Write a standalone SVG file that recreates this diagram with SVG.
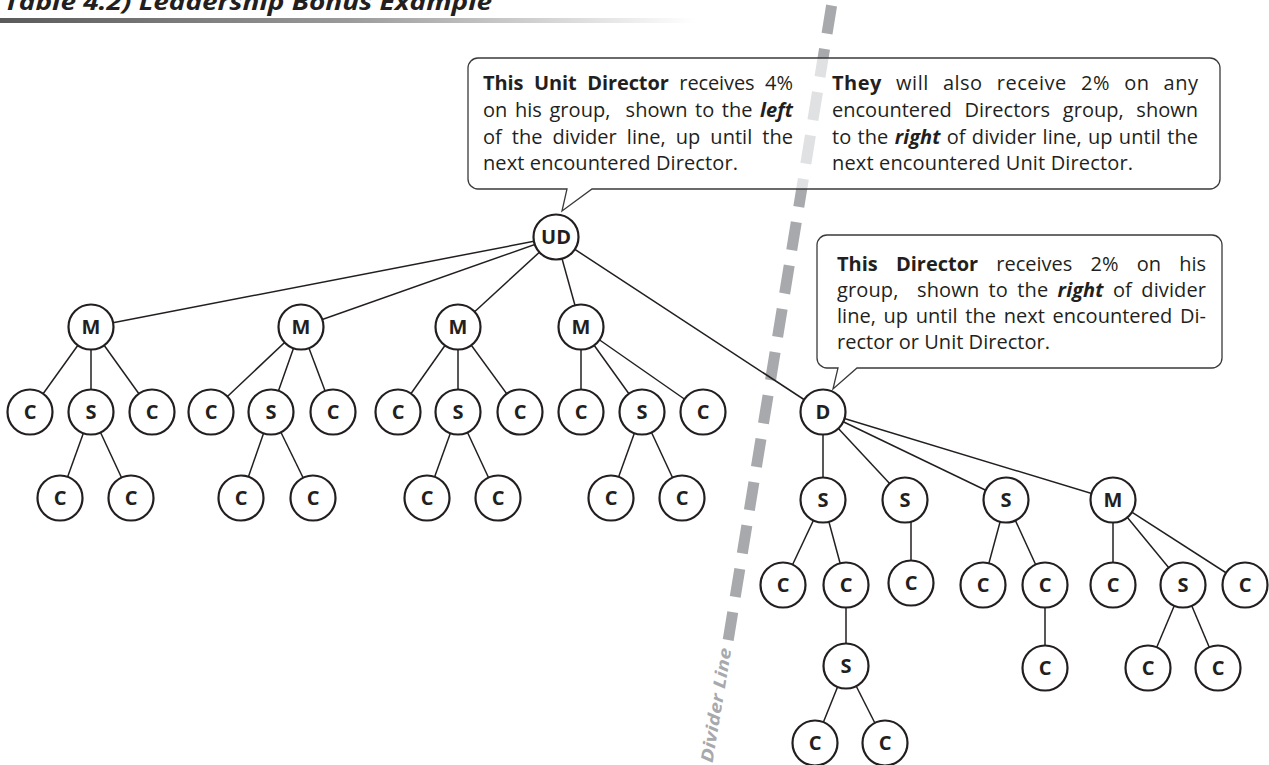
<svg xmlns="http://www.w3.org/2000/svg" width="1269" height="765" viewBox="0 0 1269 765">
<style>
  .edge { stroke:#231f20; stroke-width:1.5; fill:none; }
  .node circle { fill:#ffffff; stroke:#231f20; stroke-width:2.2; }
  .node text { font-family:"Open Sans","Noto Sans",sans-serif; font-weight:700; font-size:20px; fill:#231f20; text-anchor:middle; }
  .box { fill:#ffffff; fill-opacity:0.65; stroke:#3a3a3a; stroke-width:1.3; }
  .ct { font-family:"Open Sans","Noto Sans",sans-serif; font-size:20px; fill:#231f20; }
  .b { font-weight:700; }
  .bi { font-weight:700; font-style:italic; }
</style>
<defs>
  <linearGradient id="bar" x1="0" y1="0" x2="1" y2="0">
    <stop offset="0" stop-color="#5a5a5a"/>
    <stop offset="0.5" stop-color="#9a9a9a"/>
    <stop offset="1" stop-color="#ffffff"/>
  </linearGradient>
</defs>
<rect width="1269" height="765" fill="#ffffff"/>
<g id="title">
  <text x="4" y="10" font-family="'Open Sans','Noto Sans',sans-serif" font-size="24" font-weight="700" font-style="italic" fill="#231f20" textLength="488" lengthAdjust="spacingAndGlyphs">Table 4.2) Leadership Bonus Example</text>
  <rect x="0" y="18" width="695" height="5" fill="url(#bar)"/>
</g>
<g id="divider">
  <line x1="831.6" y1="5.5" x2="728.2" y2="640" stroke="#a7a9ac" stroke-width="11" stroke-dasharray="28.4 15.5"/>
  <text transform="translate(716,705) rotate(-80.7)" x="0" y="6" text-anchor="middle" font-family="'Open Sans','Noto Sans',sans-serif" font-size="17" font-weight="700" font-style="italic" fill="#a7a9ac" textLength="116" lengthAdjust="spacingAndGlyphs">Divider Line</text>
</g>
<g id="connectors">
  <line class="edge" x1="556" y1="237" x2="91" y2="327"/>
  <line class="edge" x1="556" y1="237" x2="301" y2="327"/>
  <line class="edge" x1="556" y1="237" x2="458" y2="327"/>
  <line class="edge" x1="556" y1="237" x2="581" y2="327"/>
  <line class="edge" x1="556" y1="237" x2="823" y2="412"/>
  <line class="edge" x1="91" y1="327" x2="30" y2="412"/>
  <line class="edge" x1="91" y1="327" x2="91" y2="412"/>
  <line class="edge" x1="91" y1="327" x2="152" y2="412"/>
  <line class="edge" x1="91" y1="412" x2="60" y2="498"/>
  <line class="edge" x1="91" y1="412" x2="131" y2="498"/>
  <line class="edge" x1="301" y1="327" x2="211" y2="412"/>
  <line class="edge" x1="301" y1="327" x2="271" y2="412"/>
  <line class="edge" x1="301" y1="327" x2="333" y2="412"/>
  <line class="edge" x1="271" y1="412" x2="241" y2="498"/>
  <line class="edge" x1="271" y1="412" x2="313" y2="498"/>
  <line class="edge" x1="458" y1="327" x2="398" y2="412"/>
  <line class="edge" x1="458" y1="327" x2="458" y2="412"/>
  <line class="edge" x1="458" y1="327" x2="520" y2="412"/>
  <line class="edge" x1="458" y1="412" x2="427" y2="498"/>
  <line class="edge" x1="458" y1="412" x2="498" y2="498"/>
  <line class="edge" x1="581" y1="327" x2="581" y2="412"/>
  <line class="edge" x1="581" y1="327" x2="642" y2="412"/>
  <line class="edge" x1="581" y1="327" x2="703" y2="412"/>
  <line class="edge" x1="642" y1="412" x2="611" y2="498"/>
  <line class="edge" x1="642" y1="412" x2="682" y2="498"/>
  <line class="edge" x1="823" y1="412" x2="823" y2="500"/>
  <line class="edge" x1="823" y1="412" x2="905" y2="500"/>
  <line class="edge" x1="823" y1="412" x2="1006" y2="500"/>
  <line class="edge" x1="823" y1="412" x2="1113" y2="500"/>
  <line class="edge" x1="823" y1="500" x2="783" y2="585"/>
  <line class="edge" x1="823" y1="500" x2="846" y2="585"/>
  <line class="edge" x1="846" y1="585" x2="846" y2="666"/>
  <line class="edge" x1="846" y1="666" x2="815" y2="743"/>
  <line class="edge" x1="846" y1="666" x2="885" y2="743"/>
  <line class="edge" x1="911" y1="500" x2="911" y2="583"/>
  <line class="edge" x1="1006" y1="500" x2="983" y2="585"/>
  <line class="edge" x1="1006" y1="500" x2="1045" y2="585"/>
  <line class="edge" x1="1045" y1="585" x2="1045" y2="668"/>
  <line class="edge" x1="1113" y1="500" x2="1113" y2="585"/>
  <line class="edge" x1="1113" y1="500" x2="1183" y2="585"/>
  <line class="edge" x1="1113" y1="500" x2="1245" y2="585"/>
  <line class="edge" x1="1183" y1="585" x2="1148" y2="668"/>
  <line class="edge" x1="1183" y1="585" x2="1218" y2="668"/>
</g>
<g id="ud" class="node"><circle cx="556" cy="237" r="22.5"/><text x="556" y="244">UD</text></g>
<g id="m1" class="node"><circle cx="91" cy="327" r="22.5"/><text x="91" y="334">M</text></g>
<g id="m2" class="node"><circle cx="301" cy="327" r="22.5"/><text x="301" y="334">M</text></g>
<g id="m3" class="node"><circle cx="458" cy="327" r="22.5"/><text x="458" y="334">M</text></g>
<g id="m4" class="node"><circle cx="581" cy="327" r="22.5"/><text x="581" y="334">M</text></g>
<g id="c1a" class="node"><circle cx="30" cy="412" r="22.5"/><text x="30" y="419">C</text></g>
<g id="s1" class="node"><circle cx="91" cy="412" r="22.5"/><text x="91" y="419">S</text></g>
<g id="c1b" class="node"><circle cx="152" cy="412" r="22.5"/><text x="152" y="419">C</text></g>
<g id="c1c" class="node"><circle cx="60" cy="498" r="22.5"/><text x="60" y="505">C</text></g>
<g id="c1d" class="node"><circle cx="131" cy="498" r="22.5"/><text x="131" y="505">C</text></g>
<g id="c2a" class="node"><circle cx="211" cy="412" r="22.5"/><text x="211" y="419">C</text></g>
<g id="s2" class="node"><circle cx="271" cy="412" r="22.5"/><text x="271" y="419">S</text></g>
<g id="c2b" class="node"><circle cx="333" cy="412" r="22.5"/><text x="333" y="419">C</text></g>
<g id="c2c" class="node"><circle cx="241" cy="498" r="22.5"/><text x="241" y="505">C</text></g>
<g id="c2d" class="node"><circle cx="313" cy="498" r="22.5"/><text x="313" y="505">C</text></g>
<g id="c3a" class="node"><circle cx="398" cy="412" r="22.5"/><text x="398" y="419">C</text></g>
<g id="s3" class="node"><circle cx="458" cy="412" r="22.5"/><text x="458" y="419">S</text></g>
<g id="c3b" class="node"><circle cx="520" cy="412" r="22.5"/><text x="520" y="419">C</text></g>
<g id="c3c" class="node"><circle cx="427" cy="498" r="22.5"/><text x="427" y="505">C</text></g>
<g id="c3d" class="node"><circle cx="498" cy="498" r="22.5"/><text x="498" y="505">C</text></g>
<g id="c4a" class="node"><circle cx="581" cy="412" r="22.5"/><text x="581" y="419">C</text></g>
<g id="s4" class="node"><circle cx="642" cy="412" r="22.5"/><text x="642" y="419">S</text></g>
<g id="c4b" class="node"><circle cx="703" cy="412" r="22.5"/><text x="703" y="419">C</text></g>
<g id="c4c" class="node"><circle cx="611" cy="498" r="22.5"/><text x="611" y="505">C</text></g>
<g id="c4d" class="node"><circle cx="682" cy="498" r="22.5"/><text x="682" y="505">C</text></g>
<g id="d" class="node"><circle cx="823" cy="412" r="22.5"/><text x="823" y="419">D</text></g>
<g id="ds1" class="node"><circle cx="823" cy="500" r="22.5"/><text x="823" y="507">S</text></g>
<g id="ds2" class="node"><circle cx="905" cy="500" r="22.5"/><text x="905" y="507">S</text></g>
<g id="ds3" class="node"><circle cx="1006" cy="500" r="22.5"/><text x="1006" y="507">S</text></g>
<g id="dm" class="node"><circle cx="1113" cy="500" r="22.5"/><text x="1113" y="507">M</text></g>
<g id="c5a" class="node"><circle cx="783" cy="585" r="22.5"/><text x="783" y="592">C</text></g>
<g id="c5b" class="node"><circle cx="846" cy="585" r="22.5"/><text x="846" y="592">C</text></g>
<g id="s5" class="node"><circle cx="846" cy="666" r="22.5"/><text x="846" y="673">S</text></g>
<g id="c5c" class="node"><circle cx="815" cy="743" r="22.5"/><text x="815" y="750">C</text></g>
<g id="c5d" class="node"><circle cx="885" cy="743" r="22.5"/><text x="885" y="750">C</text></g>
<g id="c6a" class="node"><circle cx="911" cy="583" r="22.5"/><text x="911" y="590">C</text></g>
<g id="c7a" class="node"><circle cx="983" cy="585" r="22.5"/><text x="983" y="592">C</text></g>
<g id="c7b" class="node"><circle cx="1045" cy="585" r="22.5"/><text x="1045" y="592">C</text></g>
<g id="c7c" class="node"><circle cx="1045" cy="668" r="22.5"/><text x="1045" y="675">C</text></g>
<g id="c8a" class="node"><circle cx="1113" cy="585" r="22.5"/><text x="1113" y="592">C</text></g>
<g id="s8" class="node"><circle cx="1183" cy="585" r="22.5"/><text x="1183" y="592">S</text></g>
<g id="c8b" class="node"><circle cx="1245" cy="585" r="22.5"/><text x="1245" y="592">C</text></g>
<g id="c8c" class="node"><circle cx="1148" cy="668" r="22.5"/><text x="1148" y="675">C</text></g>
<g id="c8d" class="node"><circle cx="1218" cy="668" r="22.5"/><text x="1218" y="675">C</text></g>
<g id="callout-ud">
  <path class="box" d="M478,58 H1210 A10,10 0 0 1 1220,68 V179 A10,10 0 0 1 1210,189 H592 L562,211 L567,189 H478 A10,10 0 0 1 468,179 V68 A10,10 0 0 1 478,58 Z"/>
  <text class="ct" x="483" y="90" word-spacing="5.5" textLength="310" lengthAdjust="spacing"><tspan class="b">This Unit Director</tspan> receives 4%</text>
  <text class="ct" x="483" y="117" word-spacing="2.2" textLength="310" lengthAdjust="spacing" xml:space="preserve">on his group,  shown to the <tspan class="bi">left</tspan></text>
  <text class="ct" x="483" y="144" word-spacing="4.8" textLength="310" lengthAdjust="spacing">of the divider line, up until the</text>
  <text class="ct" x="483" y="170" textLength="255" lengthAdjust="spacing">next encountered Director.</text>
  <text class="ct" x="832" y="90" word-spacing="8.5" textLength="366" lengthAdjust="spacing"><tspan class="b">They</tspan> will also receive 2% on any</text>
  <text class="ct" x="832" y="117" word-spacing="7.5" textLength="366" lengthAdjust="spacing">encountered Directors group, shown</text>
  <text class="ct" x="832" y="144" word-spacing="1" textLength="366" lengthAdjust="spacing">to the <tspan class="bi">right</tspan> of divider line, up until the</text>
  <text class="ct" x="832" y="170" textLength="301" lengthAdjust="spacing">next encountered Unit Director.</text>
</g>
<g id="callout-d">
  <path class="box" d="M827,235 H1212 A10,10 0 0 1 1222,245 V358 A10,10 0 0 1 1212,368 H857 L833,389 L838,368 H827 A10,10 0 0 1 817,358 V245 A10,10 0 0 1 827,235 Z"/>
  <text class="ct" x="837" y="271" word-spacing="13" textLength="369" lengthAdjust="spacing"><tspan class="b">This Director</tspan> receives 2% on his</text>
  <text class="ct" x="837" y="297" word-spacing="4" textLength="369" lengthAdjust="spacing" xml:space="preserve">group,  shown to the <tspan class="bi">right</tspan> of divider</text>
  <text class="ct" x="837" y="323" word-spacing="2.5" textLength="369" lengthAdjust="spacing">line, up until the next encountered Di-</text>
  <text class="ct" x="837" y="349" textLength="213" lengthAdjust="spacing">rector or Unit Director.</text>
</g>
</svg>
